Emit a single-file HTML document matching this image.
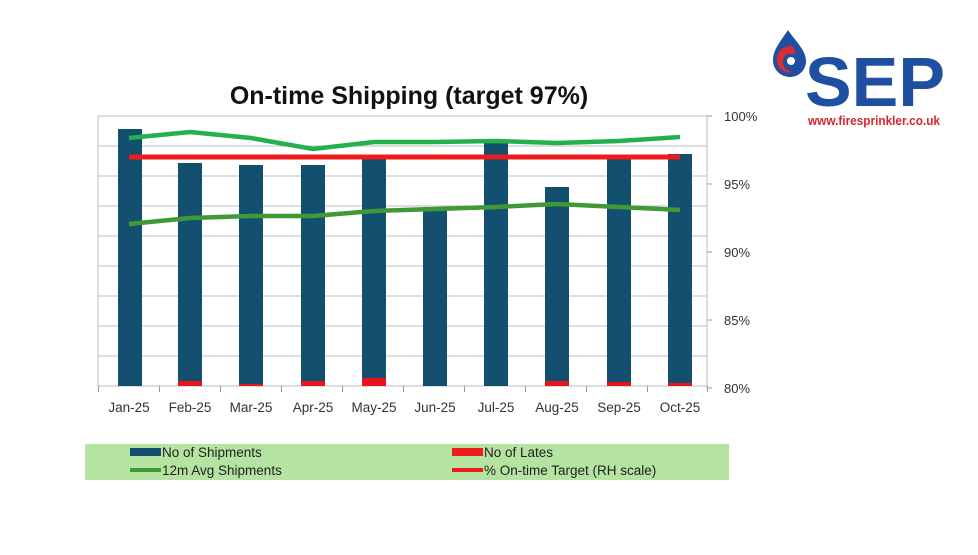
<!DOCTYPE html>
<html><head><style>
body{margin:0;background:#fff;width:978px;height:550px;overflow:hidden;font-family:"Liberation Sans",sans-serif;}
</style></head><body>
<svg width="978" height="550" xmlns="http://www.w3.org/2000/svg" font-family="Liberation Sans, sans-serif">
<text x="409" y="104" font-size="25" font-weight="bold" text-anchor="middle" fill="#111">On-time Shipping (target 97%)</text>
<g stroke="#bdbdbd" stroke-width="1">
<line x1="98" y1="116" x2="707" y2="116"/><line x1="98" y1="146" x2="707" y2="146"/><line x1="98" y1="176" x2="707" y2="176"/><line x1="98" y1="206" x2="707" y2="206"/><line x1="98" y1="236" x2="707" y2="236"/><line x1="98" y1="266" x2="707" y2="266"/><line x1="98" y1="296" x2="707" y2="296"/><line x1="98" y1="326" x2="707" y2="326"/><line x1="98" y1="356" x2="707" y2="356"/>
<line x1="98" y1="116" x2="98" y2="386"/>
<line x1="98" y1="386" x2="707" y2="386"/>
<line x1="707" y1="116" x2="707" y2="388"/>
</g>
<g stroke="#999" stroke-width="1">
<line x1="98.5" y1="386" x2="98.5" y2="392"/><line x1="159.5" y1="386" x2="159.5" y2="392"/><line x1="220.5" y1="386" x2="220.5" y2="392"/><line x1="281.5" y1="386" x2="281.5" y2="392"/><line x1="342.5" y1="386" x2="342.5" y2="392"/><line x1="403.5" y1="386" x2="403.5" y2="392"/><line x1="464.5" y1="386" x2="464.5" y2="392"/><line x1="525.5" y1="386" x2="525.5" y2="392"/><line x1="586.5" y1="386" x2="586.5" y2="392"/><line x1="647.5" y1="386" x2="647.5" y2="392"/><line x1="707.5" y1="386" x2="707.5" y2="392"/>
<line x1="707" y1="116" x2="712" y2="116"/><line x1="707" y1="184" x2="712" y2="184"/><line x1="707" y1="252" x2="712" y2="252"/><line x1="707" y1="320" x2="712" y2="320"/><line x1="707" y1="388" x2="712" y2="388"/>
</g>
<g fill="#134f6e">
<rect x="118" y="129" width="24" height="257"/>
<rect x="178" y="163" width="24" height="223"/>
<rect x="239" y="165" width="24" height="221"/>
<rect x="301" y="165" width="24" height="221"/>
<rect x="362" y="158" width="24" height="228"/>
<rect x="423" y="207" width="24" height="179"/>
<rect x="484" y="143" width="24" height="243"/>
<rect x="545" y="187" width="24" height="199"/>
<rect x="607" y="157" width="24" height="229"/>
<rect x="668" y="154" width="24" height="232"/>
</g>
<g fill="#e8141b">
<rect x="178" y="381" width="24" height="5"/>
<rect x="239" y="384" width="24" height="2"/>
<rect x="301" y="381" width="24" height="5"/>
<rect x="362" y="378" width="24" height="8"/>
<rect x="545" y="381" width="24" height="5"/>
<rect x="607" y="382" width="24" height="4"/>
<rect x="668" y="383" width="24" height="3"/>
</g>
<line x1="129" y1="157" x2="680" y2="157" stroke="#ee1c1c" stroke-width="5"/>
<polyline points="129,138 190,132 251,138 313,149 374,142 435,142 496,141 557,143 619,141 680,137" fill="none" stroke="#22b14c" stroke-width="4.5"/>
<polyline points="129,224 190,218 251,216 313,216 374,211 435,209 496,207 557,204 619,207 680,210" fill="none" stroke="#3f9a35" stroke-width="4.5"/>
<g font-size="13.5" fill="#333" text-anchor="middle">
<text x="129" y="412">Jan-25</text><text x="190" y="412">Feb-25</text><text x="251" y="412">Mar-25</text><text x="313" y="412">Apr-25</text><text x="374" y="412">May-25</text><text x="435" y="412">Jun-25</text><text x="496" y="412">Jul-25</text><text x="557" y="412">Aug-25</text><text x="619" y="412">Sep-25</text><text x="680" y="412">Oct-25</text>
</g>
<g font-size="13" fill="#333">
<text x="724" y="121">100%</text><text x="724" y="189">95%</text><text x="724" y="257">90%</text><text x="724" y="325">85%</text><text x="724" y="393">80%</text>
</g>
<rect x="85" y="444" width="644" height="36" fill="#b5e3a1"/>
<rect x="130" y="448" width="31" height="8" fill="#134f6e"/>
<text x="162" y="457" font-size="13.5" fill="#222">No of Shipments</text>
<line x1="130" y1="470" x2="161" y2="470" stroke="#3f9a35" stroke-width="4"/>
<text x="162" y="475" font-size="13.5" fill="#222">12m Avg Shipments</text>
<rect x="452" y="448" width="31" height="8" fill="#ee1c1c"/>
<text x="484" y="457" font-size="13.5" fill="#222">No of Lates</text>
<line x1="452" y1="470" x2="483" y2="470" stroke="#ee1c1c" stroke-width="4"/>
<text x="484" y="475" font-size="13.5" fill="#222">% On-time Target (RH scale)</text>
<path d="M788 30 C780 42 773 50 773 60 C773 70 781 77 790 77 C799 77 806 70 806 61 C806 50 796 42 788 30 Z" fill="#1f4fa0"/>
<path d="M791 46 C781 46 776 54 777 62 C778 70 786 74 793 72 C786 71 782 66 783 60 C784 54 790 52 795 55 C795 50 794 47 791 46 Z" fill="#e02a33"/>
<circle cx="791" cy="61" r="4" fill="#fff"/>
<text x="805" y="106" font-size="70" font-weight="bold" fill="#1f4fa0" textLength="140" lengthAdjust="spacingAndGlyphs">SEP</text>
<text x="808" y="125" font-size="12.5" font-weight="bold" fill="#d9262e" textLength="132" lengthAdjust="spacingAndGlyphs">www.firesprinkler.co.uk</text>
</svg>
</body></html>
